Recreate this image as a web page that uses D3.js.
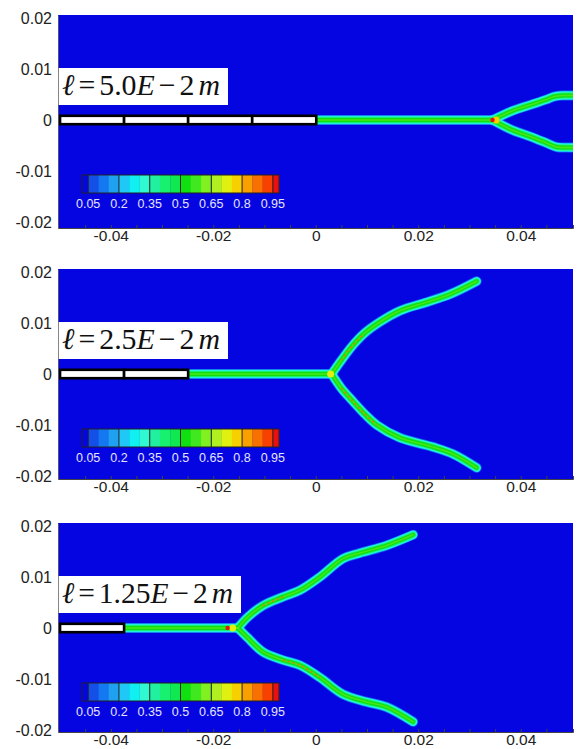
<!DOCTYPE html>
<html>
<head>
<meta charset="utf-8">
<script src="https://cdn.jsdelivr.net/npm/d3@7"></script>
<style>
  body { margin: 0; background: #fff; }
  svg { display: block; }
</style>
</head>
<body>
<svg></svg>
<script>
// ---- data ----
const xTicks = [-0.04, -0.02, 0, 0.02, 0.04];
const xMinorTicks = [-0.045, -0.04, -0.035, -0.03, -0.025, -0.02, -0.015, -0.01, -0.005, 0,
                     0.005, 0.01, 0.015, 0.02, 0.025, 0.03, 0.035, 0.04, 0.045];
const yTicks = [0.02, 0.01, 0, -0.01, -0.02];

// contour levels of the phase field and their colours
const levelEdges = [0.02, 0.05, 0.1, 0.15, 0.2, 0.25, 0.3, 0.35, 0.4, 0.45, 0.5,
                    0.55, 0.6, 0.65, 0.7, 0.75, 0.8, 0.85, 0.9, 0.95, 0.98];
const levelColors = ['#0505e1', '#1450e8', '#1478f0', '#20a0f0', '#20c8f8', '#10f0f0',
                     '#30f8d0', '#20f0a0', '#18f070', '#10e850', '#10e010', '#40e820',
                     '#80f020', '#b0f020', '#e0f010', '#f8d000', '#f8a000', '#f87000',
                     '#f84000', '#e81010'];
const barTicks = [0.05, 0.2, 0.35, 0.5, 0.65, 0.8, 0.95];

// length scale label per panel
const lengths = ['5.0', '2.5', '1.25'];

// initial notch split points (x)
const notch1 = [-0.05, -0.0375, -0.025, -0.0125, 0];
const notch2 = [-0.05, -0.0375, -0.025];
const notch3 = [-0.05, -0.0375];

// crack paths [x, y]
const main1 = [[0, 0], [0.0345, 0]];
const upper1 = [[0.0345, 0], [0.0384, 0.0018], [0.042, 0.003], [0.045, 0.004], [0.0465, 0.0046], [0.048, 0.0048], [0.0503, 0.0048]];
const lower1 = [[0.0345, 0], [0.0384, -0.002], [0.042, -0.0033], [0.045, -0.0045], [0.047, -0.0053], [0.049, -0.0054], [0.0503, -0.0054]];

const main2 = [[-0.025, 0], [0.0031, 0]];
const upper2 = [[0.0031, 0], [0.005, 0.0027], [0.0072, 0.0056], [0.0095, 0.008], [0.0125, 0.0102], [0.0164, 0.0124], [0.0217, 0.0141], [0.0261, 0.0156], [0.0314, 0.0182]];
const lower2 = [[0.0031, 0], [0.005, -0.0028], [0.0072, -0.0053], [0.0095, -0.0078], [0.0119, -0.01], [0.0164, -0.0125], [0.0228, -0.0143], [0.0268, -0.0157], [0.0314, -0.0184]];

const main3 = [[-0.0375, 0], [-0.0152, 0]];
const upper3 = [[-0.0152, 0], [-0.0133, 0.0021], [-0.0103, 0.0044], [-0.0064, 0.0061], [-0.0031, 0.0074], [0.0008, 0.01], [0.0053, 0.0136], [0.0086, 0.0147], [0.0138, 0.0162], [0.019, 0.0183]];
const lower3 = [[-0.0152, 0], [-0.0133, -0.0019], [-0.0103, -0.0047], [-0.0064, -0.0063], [-0.0031, -0.0073], [0.0008, -0.0097], [0.0053, -0.013], [0.0099, -0.0145], [0.0138, -0.0155], [0.019, -0.0184]];

// high phase-field spots [x, y, value]
const hot1 = [[0.0352, 0, 0.75], [0.0345, 0, 0.97]];
const hot2 = [[0.0029, 0, 0.72]];
const hot3 = [[-0.0162, 0, 0.72], [-0.0172, 0, 0.97]];

// damaged stretches along the branches (speckled orange)
const speckle2 = [
  [[0.005, 0.0027], [0.0072, 0.0056], [0.0095, 0.008]],
  [[0.005, -0.0028], [0.0072, -0.0053], [0.0095, -0.0078], [0.0119, -0.01]]
];
const speckle3 = [
  [[-0.0103, 0.0044], [-0.0064, 0.0061]],
  [[-0.0064, -0.0063], [-0.0031, -0.0073], [0.0008, -0.0097]]
];

const panels = [
  {len: lengths[0], notch: notch1, cracks: [main1, upper1, lower1], hot: hot1, speckle: []},
  {len: lengths[1], notch: notch2, cracks: [main2, upper2, lower2], hot: hot2, speckle: speckle2},
  {len: lengths[2], notch: notch3, cracks: [main3, upper3, lower3], hot: hot3, speckle: speckle3}
];

// ---- layout ----
const W = 579, H = 749;
const plotL = 58, plotR = 573, panelStep = 254, firstTop = 15;
const plotHs = [213, 210, 209];
const pxPerUnit = 5097, yTop = 0.0206;
const sans = '"Liberation Sans", Arial, sans-serif';
const serif = '"Liberation Serif", "DejaVu Serif", "Times New Roman", serif';
const fmt = d => String(d);

const svg = d3.select('svg').attr('width', W).attr('height', H);
svg.append('rect').attr('width', W).attr('height', H).attr('fill', '#fff');

const x = d3.scaleLinear().domain([-0.0503, 0.0502]).range([plotL, plotR]);
const color = d3.scaleThreshold().domain(levelEdges.slice(1, -1)).range(levelColors);
const barX = d3.scaleLinear().domain([0.02, 0.98]).range([82, 279]);

// band layers: phase value, width, opacity
const bandLayers = [
  {v: 0.17, w: 10, o: 0.6},
  {v: 0.27, w: 8.5, o: 0.95},
  {v: 0.32, w: 7.2, o: 1},
  {v: 0.42, w: 5.8, o: 1},
  {v: 0.5, w: 4, o: 1},
  {v: 0.62, w: 1.5, o: 0.5}
];

panels.forEach((p, i) => {
  const top = firstTop + i * panelStep;
  const plotH = plotHs[i];
  const yBottom = yTop - plotH / pxPerUnit;
  const y = d3.scaleLinear().domain([yBottom, yTop]).range([top + plotH, top]);
  const g = svg.append('g');

  // background (phase = 0)
  g.append('rect')
    .attr('x', plotL).attr('y', top)
    .attr('width', plotR - plotL).attr('height', plotH)
    .attr('fill', color(0));

  const line = d3.line()
    .x(d => x(d[0]))
    .y(d => y(d[1]))
    .curve(d3.curveCatmullRom);

  const clipId = 'clip' + i;
  g.append('clipPath').attr('id', clipId)
    .append('rect').attr('x', plotL).attr('y', top)
    .attr('width', plotR - plotL).attr('height', plotH);
  const field = g.append('g').attr('clip-path', `url(#${clipId})`);

  bandLayers.forEach(l => {
    field.append('g').selectAll('path')
      .data(p.cracks)
      .join('path')
      .attr('d', line)
      .attr('fill', 'none')
      .attr('stroke', color(l.v))
      .attr('stroke-width', l.w)
      .attr('stroke-opacity', l.o)
      .attr('stroke-linecap', 'round')
      .attr('stroke-linejoin', 'round');
  });

  field.append('g').selectAll('path')
    .data(p.speckle)
    .join('path')
    .attr('d', line)
    .attr('fill', 'none')
    .attr('stroke', color(0.87))
    .attr('stroke-width', 1.6)
    .attr('stroke-dasharray', '2 3')
    .attr('stroke-opacity', 0.8);

  field.append('g').selectAll('circle')
    .data(p.hot)
    .join('circle')
    .attr('cx', d => x(d[0]))
    .attr('cy', d => y(d[1]))
    .attr('r', d => d[2] > 0.9 ? 2.2 : 3.5)
    .attr('fill', d => color(d[2]));

  // initial notch
  const segs = d3.pairs(p.notch);
  g.append('g').selectAll('rect')
    .data(segs)
    .join('rect')
    .attr('x', d => x(d[0]) + 0.5)
    .attr('y', y(0) - 4.2)
    .attr('width', d => x(d[1]) - x(d[0]))
    .attr('height', 8.4)
    .attr('fill', '#fff')
    .attr('stroke', '#000')
    .attr('stroke-width', 2.6);

  // colorbar
  const barTop = y(0) + 55, barH = 18;
  const cells = d3.pairs(levelEdges);
  g.append('g').selectAll('rect')
    .data(cells)
    .join('rect')
    .attr('x', d => barX(d[0]))
    .attr('y', barTop)
    .attr('width', d => barX(d[1]) - barX(d[0]) + 0.3)
    .attr('height', barH)
    .attr('fill', d => color((d[0] + d[1]) / 2));
  g.append('g').selectAll('line')
    .data(barTicks)
    .join('line')
    .attr('x1', d => barX(d)).attr('x2', d => barX(d))
    .attr('y1', barTop).attr('y2', barTop + barH)
    .attr('stroke', '#222').attr('stroke-width', 1);
  g.append('rect')
    .attr('x', barX(0.02)).attr('y', barTop)
    .attr('width', barX(0.98) - barX(0.02)).attr('height', barH)
    .attr('fill', 'none').attr('stroke', '#222').attr('stroke-width', 1);
  g.append('g').selectAll('text')
    .data(barTicks)
    .join('text')
    .attr('x', d => barX(d))
    .attr('y', barTop + barH + 15)
    .attr('text-anchor', 'middle')
    .attr('font-family', sans)
    .attr('font-size', 12.5)
    .attr('fill', '#e4e4ff')
    .text(fmt);

  // label box
  const boxTop = y(0) - 52, boxH = 37;
  const tw = p.len.length > 3 ? 171 : 158;
  g.append('rect')
    .attr('x', plotL).attr('y', boxTop)
    .attr('width', tw + 12)
    .attr('height', boxH).attr('fill', '#fff');
  const t = g.append('text')
    .attr('x', plotL + 4)
    .attr('y', boxTop + 27)
    .attr('font-family', serif)
    .attr('font-size', 30)
    .attr('fill', '#111');
  t.append('tspan').attr('font-style', 'italic').text('\u2113');
  t.append('tspan').attr('dx', 4).text('=');
  t.append('tspan').attr('dx', 4).text(p.len);
  t.append('tspan').attr('font-style', 'italic').text('E');
  t.append('tspan').attr('dx', 4).text('\u2212');
  t.append('tspan').attr('dx', 4).text('2');
  t.append('tspan').attr('dx', 4).attr('font-style', 'italic').text('m');
  t.attr('textLength', tw).attr('lengthAdjust', 'spacingAndGlyphs');

  // axes
  const axisB = g.append('g')
    .attr('transform', `translate(0,${top + plotH})`)
    .call(d3.axisBottom(x).tickValues(xMinorTicks).tickSize(-3).tickFormat(''));
  axisB.select('.domain').attr('stroke', '#444');
  axisB.selectAll('.tick line').attr('stroke', '#444');

  const axisBL = g.append('g')
    .attr('transform', `translate(0,${top + plotH})`)
    .call(d3.axisBottom(x).tickValues(xTicks).tickSize(0).tickPadding(2).tickFormat(fmt));
  axisBL.select('.domain').remove();
  axisBL.selectAll('text')
    .attr('font-family', sans).attr('font-size', 15.5).attr('fill', '#222');

  const axisL = g.append('g')
    .attr('transform', `translate(${plotL},0)`)
    .call(d3.axisLeft(y).tickValues(yTicks).tickSize(0).tickPadding(6).tickFormat(fmt));
  axisL.select('.domain').attr('stroke', '#666').attr('stroke-width', 0.8);
  axisL.selectAll('text')
    .attr('font-family', sans).attr('font-size', 16).attr('fill', '#222');
});
</script>
</body>
</html>
